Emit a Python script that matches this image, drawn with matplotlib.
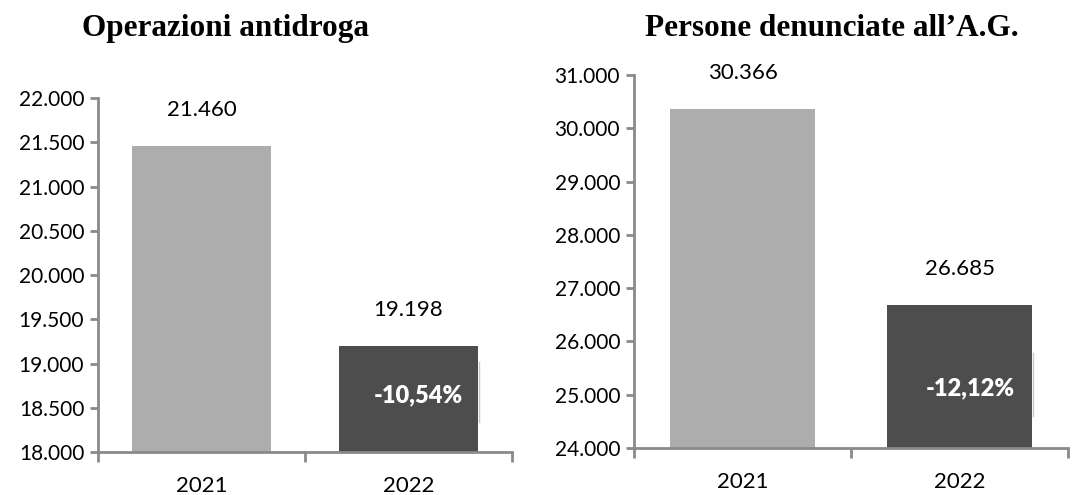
import matplotlib
matplotlib.use("Agg")
import matplotlib.pyplot as plt
from matplotlib.ticker import FuncFormatter, MultipleLocator

# dati
anni = ["2021", "2022"]
operazioni = [21460, 19198]
denunciati = [30366, 26685]

titoli = ["Operazioni antidroga", "Persone denunciate all\u2019A.G."]
y_limiti = [(18000, 22000), (24000, 31000)]
y_passi = [500, 1000]

colori = ["#adadad", "#4d4d4d"]
grigio_assi = "#8a8a8a"

plt.rcParams["font.family"] = ["Lato", "DejaVu Sans"]


def migliaia(v, pos):
    return f"{v:,.0f}".replace(",", ".")


def pannello(ax, valori, titolo, ylim, passo, titolo_x):
    x = range(len(valori))
    ax.bar(x, valori, width=0.67, color=colori, zorder=2)
    ax.set_ylim(*ylim)
    ax.set_xlim(-0.5, len(valori) - 0.5)
    ax.yaxis.set_major_locator(MultipleLocator(passo))
    ax.yaxis.set_major_formatter(FuncFormatter(migliaia))

    # etichette sotto le categorie, tacche sui bordi
    ax.set_xticks(list(x))
    ax.set_xticklabels(anni)
    ax.set_xticks([i - 0.5 for i in range(len(valori) + 1)], minor=True)
    ax.tick_params(axis="x", which="major", length=0, pad=17, labelsize=16)
    ax.tick_params(axis="x", which="minor", length=7, width=2, color=grigio_assi)
    ax.tick_params(axis="y", length=6, width=2, color=grigio_assi, labelsize=15, pad=4)

    for s in ["top", "right"]:
        ax.spines[s].set_visible(False)
    for s in ["left", "bottom"]:
        ax.spines[s].set_color(grigio_assi)
        ax.spines[s].set_linewidth(2)

    # valori sopra le barre
    for i, v in enumerate(valori):
        ax.annotate(migliaia(v, None), (i, v), xytext=(0, 26), textcoords="offset points",
                    ha="center", va="center", fontsize=16)

    # variazione percentuale nella seconda barra
    var = (valori[1] - valori[0]) / valori[0] * 100
    ax.text(0.775, 0.16, f"{var:.2f}%".replace(".", ","), transform=ax.transAxes,
            ha="center", va="center", fontsize=17, fontweight="heavy", color="white", zorder=3)
    ax.plot([0.92, 0.92], [0.085, 0.255], transform=ax.transAxes, color="#c8c8c8",
            lw=1, zorder=3, clip_on=False)

    ax.figure.text(titolo_x, 0.943, titolo, ha="center", va="center",
                   family="Liberation Serif", fontweight="bold", fontsize=22.5)


fig = plt.figure(figsize=(10.75, 4.95), dpi=100)
ax1 = fig.add_axes([0.0912, 0.0869, 0.385, 0.715])
ax2 = fig.add_axes([0.5898, 0.0949, 0.4037, 0.7535])

pannello(ax1, operazioni, titoli[0], y_limiti[0], y_passi[0], 0.21)
pannello(ax2, denunciati, titoli[1], y_limiti[1], y_passi[1], 0.774)

fig.savefig("out.png", dpi=100)
